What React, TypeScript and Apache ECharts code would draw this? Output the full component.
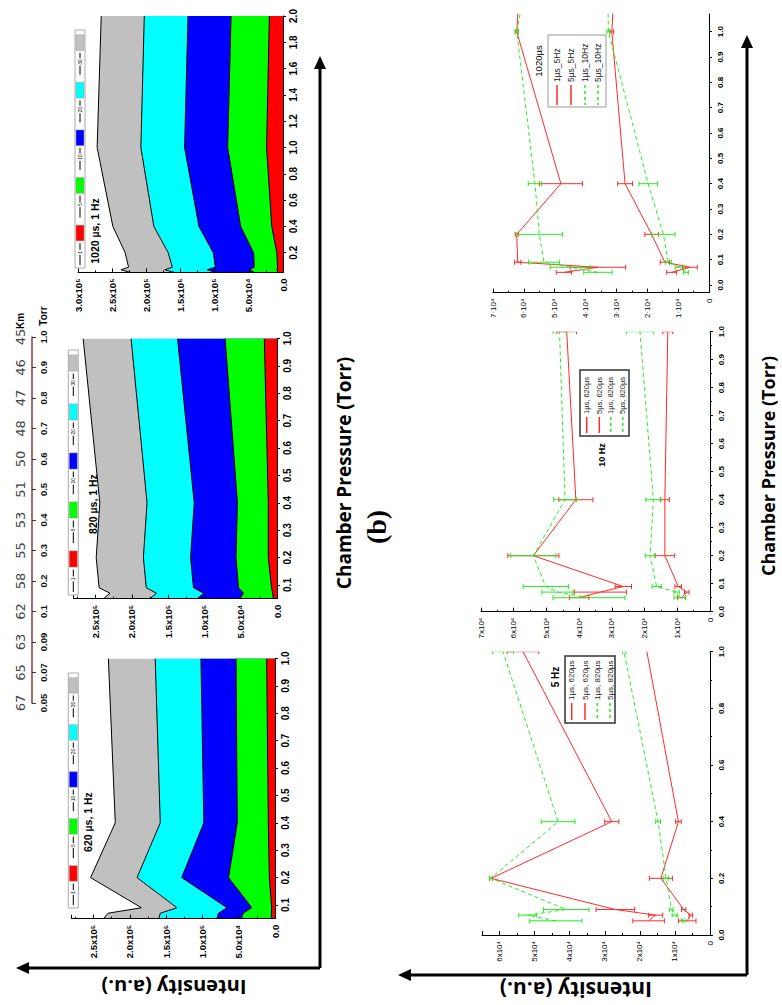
import React, { useEffect, useRef } from 'react';
import * as echarts from 'echarts';

// ---------- Area panels (1 Hz), gate widths 1,5,10,20,30 ----------
const gateLabels = ['1', '5', '10', '20', '30'];
const gateColors = ['#ff0000', '#00ff00', '#0000ff', '#00ffff', '#c0c0c0'];

const area1020Pressure = [0.05, 0.07, 0.09, 0.2, 0.4, 1.0, 2.0];
const area1020_g1 = [7000, 9000, 8000, 9000, 16500, 24000, 20000];
const area1020_g5 = [42000, 49000, 42000, 43000, 62000, 81000, 76000];
const area1020_g10 = [98000, 111000, 99000, 102000, 123000, 144000, 139000];
const area1020_g20 = [159000, 173000, 162000, 168000, 189000, 208000, 203000];
const area1020_g30 = [224000, 237000, 226000, 231000, 249000, 272000, 266000];

const area820Pressure = [0.05, 0.07, 0.09, 0.2, 0.4, 1.0];
const area820_g1 = [5000, 6000, 7500, 12000, 12000, 17500];
const area820_g5 = [51000, 46000, 53000, 56500, 54500, 71500];
const area820_g10 = [110000, 101000, 115000, 119000, 114000, 137000];
const area820_g20 = [175000, 166000, 180000, 184000, 179000, 201000];
const area820_g30 = [239000, 230000, 245000, 249000, 244000, 267000];

const area620Pressure = [0.05, 0.07, 0.09, 0.2, 0.4, 1.0];
const area620_g1 = [5000, 5000, 4600, 7800, 9200, 11500];
const area620_g5 = [46000, 44000, 32000, 64000, 52000, 53700];
const area620_g10 = [80000, 78000, 66000, 128500, 98000, 102000];
const area620_g20 = [160000, 158000, 135000, 190000, 158000, 165000];
const area620_g30 = [236000, 230000, 184000, 254000, 220000, 229500];

const areaTicks1020 = [0.2, 0.4, 0.6, 0.8, 1.0, 1.2, 1.4, 1.6, 1.8, 2.0];
const areaTicks1 = [0.1, 0.2, 0.3, 0.4, 0.5, 0.6, 0.7, 0.8, 0.9, 1.0];

// ---------- altitude / pressure scale ----------
const torrTicks = ['0.05', '0.07', '0.09', '0.1', '0.2', '0.3', '0.4', '0.5', '0.6', '0.7', '0.8', '0.9', '1.0'];
const kmTicks = ['67', '65', '63', '62', '58', '55', '53', '51', '50', '48', '47', '46', '45'];

// ---------- Line panels ----------
const linePressure = [0.05, 0.07, 0.09, 0.2, 0.4, 1.0];
const line1020Pressure = [0.05, 0.07, 0.09, 0.2, 0.4, 1.0, 2.0];
const line1020Ticks = [0, 0.1, 0.2, 0.3, 0.4, 0.5, 0.6, 0.7, 0.8, 0.9, 1.0];

// 5 Hz panel
const hz5_1us620 = [6500, 5500, 7500, 14000, 9000, 18000];
const hz5_1us620Err = [2500, 500, 600, 3300, 800, 0];
const hz5_5us620 = [17500, 15500, 27000, 62400, 28000, 53300];
const hz5_5us620Err = [4500, 2000, 5500, 400, 2000, 4500];
const hz5_1us820 = [7500, 10000, 11000, 12500, 14800, 24500];
const hz5_1us820Err = [400, 800, 500, 700, 700, 500];
const hz5_5us820 = [44000, 52000, 41000, 62500, 43300, 59000];
const hz5_5us820Err = [7500, 2500, 6500, 400, 4800, 3000];

// 10 Hz panel
const hz10_1us620 = [8700, 7100, 9700, 13800, 13800, 12900];
const hz10_1us620Err = [1200, 700, 1000, 3000, 1400, 1500];
const hz10_5us620 = [40000, 33500, 26500, 54000, 41000, 43800];
const hz10_5us620Err = [3000, 8000, 2500, 7800, 5200, 3000];
const hz10_1us820 = [9200, 10200, 16300, 18300, 17300, 21400];
const hz10_1us820Err = [1800, 800, 1400, 1500, 2300, 4200];
const hz10_5us820 = [37000, 46600, 50200, 54000, 44300, 46000];
const hz10_5us820Err = [11000, 4800, 6900, 6900, 3500, 2000];

// 1020 us panel
const us1020_1us5Hz = [12100, 6200, 14300, 18600, 27200, 31500, 27000];
const us1020_1us5HzErr = [1600, 2400, 1500, 2200, 2400, 600, 0];
const us1020_5us5Hz = [47000, 36000, 62000, 62300, 48000, 62300, 57500];
const us1020_5us5HzErr = [2500, 9000, 1000, 500, 7000, 500, 0];
const us1020_1us10Hz = [7500, 9400, 13200, 14800, 19700, 32600, 34000];
const us1020_1us10HzErr = [800, 1500, 1000, 3800, 3000, 500, 0];
const us1020_5us10Hz = [36000, 45000, 53500, 55000, 56400, 62300, 47000];
const us1020_5us10HzErr = [4600, 6500, 5000, 7500, 2200, 500, 0];

const legend620 = ['1\u00b5s, 620\u00b5s', '5\u00b5s, 620\u00b5s', '1\u00b5s, 820\u00b5s', '5\u00b5s, 820\u00b5s'];
const legend1020 = ['1\u00b5s_5Hz', '5\u00b5s_5Hz', '1\u00b5s_10Hz', '5\u00b5s_10Hz'];

const RED = '#ff2a2a';
const GREEN = '#22ee22';
const ARIAL = '"Liberation Sans", Arial, sans-serif';
const OPEN = '"Open Sans", "Noto Sans", sans-serif';

function fmtArea(v: number) {
  if (v === 0) return '0.0';
  if (v < 1e5) return (v / 1e4).toFixed(1) + 'x10\u2074';
  return (v / 1e5).toFixed(1) + 'x10\u2075';
}

function areaSeries(g: number, pressures: number[], bands: number[][]) {
  // bands ordered from 30 down to 1
  const colors = [gateColors[4], gateColors[3], gateColors[2], gateColors[1], gateColors[0]];
  return {
    type: 'custom',
    xAxisIndex: g,
    yAxisIndex: g,
    clip: true,
    silent: true,
    z: 2,
    encode: { x: 0, y: 1 },
    data: bands.map((_, k) => [0, pressures[0], k]),
    renderItem: (params: any, api: any) => {
      const k = params.dataIndex;
      const vals = bands[k];
      const top = pressures.map((p, j) => api.coord([vals[j], p]));
      const b0 = api.coord([0, pressures[pressures.length - 1]]);
      const b1 = api.coord([0, pressures[0]]);
      return {
        type: 'group',
        children: [
          { type: 'polygon', shape: { points: [...top, b0, b1] }, style: { fill: colors[k], stroke: null } },
          { type: 'polyline', shape: { points: top }, style: { stroke: '#000', lineWidth: 1, fill: null } },
        ],
      };
    },
  };
}

function lineSeries(g: number, pressures: number[], vals: number[], color: string, dashed: boolean) {
  return {
    type: 'line',
    xAxisIndex: g,
    yAxisIndex: g,
    data: pressures.map((p, j) => [vals[j], p]),
    showSymbol: false,
    symbol: 'none',
    clip: true,
    silent: true,
    z: 3,
    lineStyle: { color, width: 1, type: dashed ? [4, 3] : 'solid' },
    itemStyle: { color },
  };
}

function errSeries(g: number, pressures: number[], vals: number[], errs: number[], color: string) {
  return {
    type: 'custom',
    xAxisIndex: g,
    yAxisIndex: g,
    clip: true,
    silent: true,
    z: 4,
    encode: { x: 0, y: 1 },
    data: pressures.map((p, j) => [vals[j], p, errs[j]]),
    renderItem: (params: any, api: any) => {
      const v = api.value(0);
      const p = api.value(1);
      const e = api.value(2);
      if (!e) return { type: 'group', children: [] };
      const a = api.coord([v - e, p]);
      const b = api.coord([v + e, p]);
      const h = 2.5;
      const st = { stroke: color, lineWidth: 1 };
      return {
        type: 'group',
        children: [
          { type: 'line', shape: { x1: a[0], y1: a[1], x2: b[0], y2: b[1] }, style: st },
          { type: 'line', shape: { x1: a[0], y1: a[1] - h, x2: a[0], y2: a[1] + h }, style: st },
          { type: 'line', shape: { x1: b[0], y1: b[1] - h, x2: b[0], y2: b[1] + h }, style: st },
        ],
      };
    },
  };
}

function areaX(g: number, max: number) {
  return {
    type: 'value', gridIndex: g, inverse: true, min: 0, max, interval: 50000, position: 'bottom', z: 10,
    axisLine: { show: true, onZero: false, lineStyle: { color: '#000', width: 1 } },
    axisTick: { show: true, inside: true, length: 4, lineStyle: { color: '#000' } },
    minorTick: { show: true, splitNumber: 2, length: 2, lineStyle: { color: '#000' } },
    splitLine: { show: false },
    axisLabel: {
      rotate: 90, fontSize: 9.5, fontWeight: 'bold', fontFamily: ARIAL, color: '#000', margin: 6, formatter: fmtArea,
      showMaxLabel: max % 50000 === 0,
    },
  };
}

function areaY(g: number, max: number, ticks: number[]) {
  return {
    type: 'value', gridIndex: g, min: 0.05, max, position: 'right', z: 10,
    axisLine: { show: true, onZero: false, lineStyle: { color: '#000', width: 1 } },
    axisTick: { show: true, customValues: ticks, length: 3, lineStyle: { color: '#000' } },
    splitLine: { show: false },
    axisLabel: {
      customValues: ticks, rotate: 90, fontSize: 10, fontWeight: 'bold', fontFamily: ARIAL, color: '#000', margin: 5,
      formatter: (v: number) => v.toFixed(1),
    },
  };
}

function lineX(g: number, max: number, sep: string) {
  return {
    type: 'value', gridIndex: g, inverse: true, min: 0, max, interval: 10000, position: 'bottom', z: 10,
    axisLine: { show: true, onZero: false, lineStyle: { color: '#000', width: 1 } },
    axisTick: { show: true, inside: true, length: 4, lineStyle: { color: '#000' } },
    minorTick: { show: true, splitNumber: 2, length: 2, lineStyle: { color: '#000' } },
    splitLine: { show: false },
    axisLabel: {
      rotate: 90, fontSize: 8, fontFamily: ARIAL, color: '#000', margin: 6,
      showMaxLabel: max % 10000 === 0,
      formatter: (v: number) => (v === 0 ? '0' : Math.round(v / 1e4) + sep + '10\u2074'),
    },
  };
}

function lineY(g: number, min: number, max: number, ticks: number[] | null, interval?: number) {
  const base: any = {
    type: 'value', gridIndex: g, min, max, position: 'right', z: 10,
    axisLine: { show: true, onZero: false, lineStyle: { color: '#000', width: 1 } },
    axisTick: { show: true, length: 3, lineStyle: { color: '#000' } },
    splitLine: { show: false },
    axisLabel: {
      rotate: 90, fontSize: 8, fontWeight: 'bold', fontFamily: ARIAL, color: '#000', margin: 7,
      formatter: (v: number) => v.toFixed(1),
    },
  };
  if (ticks) {
    base.axisTick.customValues = ticks;
    base.axisLabel.customValues = ticks;
  }
  if (interval) {
    base.interval = interval;
    base.minorTick = { show: true, splitNumber: 2, length: 2, lineStyle: { color: '#000' } };
  }
  return base;
}

function txt(x: number, y: number, text: string, fontSize: number, opts: any = {}) {
  return {
    type: 'text', x, y, rotation: opts.rotation ?? Math.PI / 2, silent: true, z: 20,
    style: {
      text, fontSize, fontWeight: opts.bold ? 'bold' : 'normal', fontFamily: opts.font || ARIAL,
      fill: opts.color || '#000', align: opts.align || 'center', verticalAlign: 'middle',
      textAlign: opts.align || 'center', textVerticalAlign: 'middle',
      backgroundColor: opts.bg, padding: opts.bg ? [0, 1] : 0,
    },
  };
}

function areaLegend(x0: number, x1: number, yTop: number, yBot: number) {
  const els: any[] = [];
  els.push({ type: 'rect', z: 15, silent: true, shape: { x: x0, y: yTop, width: x1 - x0, height: yBot - yTop }, style: { fill: '#fff', stroke: '#aaa', lineWidth: 1 } });
  const H = (yBot - yTop) / 5;
  const cx = (x0 + x1) / 2;
  for (let k = 0; k < 5; k++) {
    const b = yBot - k * H;
    els.push({ type: 'line', z: 16, silent: true, shape: { x1: cx, y1: b - 0.06 * H, x2: cx, y2: b - 0.52 * H }, style: { stroke: '#000', lineWidth: 1 } });
    els.push(txt(cx, b - 0.33 * H, gateLabels[k], 5, { bg: '#fff' }));
    els.push({ type: 'rect', z: 16, silent: true, shape: { x: cx - 4, y: b - 0.9 * H, width: 8, height: 0.33 * H }, style: { fill: gateColors[k], stroke: '#999', lineWidth: 0.5 } });
  }
  return els;
}

function lineLegend(x0: number, y0: number, x1: number, y1: number, cols: number[], s0: number, s1: number, tStart: number, labels: string[], fontSize: number, border: string, bw: number) {
  const els: any[] = [];
  els.push({ type: 'rect', z: 15, silent: true, shape: { x: x0, y: y0, width: x1 - x0, height: y1 - y0 }, style: { fill: '#fff', stroke: border, lineWidth: bw } });
  cols.forEach((cx, i) => {
    const green = i >= 2;
    els.push({ type: 'line', z: 16, silent: true, shape: { x1: cx, y1: s0, x2: cx, y2: s1 }, style: { stroke: green ? GREEN : RED, lineWidth: 1.5, lineDash: green ? [3, 3] : null } });
    els.push(txt(cx, tStart, labels[i], fontSize, { align: 'left', color: '#222' }));
  });
  return els;
}

function arrow(x1: number, y1: number, x2: number, y2: number, dir: 'left' | 'up') {
  const els: any[] = [];
  els.push({ type: 'line', z: 20, silent: true, shape: { x1, y1, x2, y2 }, style: { stroke: '#000', lineWidth: 3 } });
  if (dir === 'left') {
    els.push({ type: 'polygon', z: 20, silent: true, shape: { points: [[x2 - 12, y2], [x2 + 1, y2 - 6], [x2 + 1, y2 + 6]] }, style: { fill: '#000' } });
  } else {
    els.push({ type: 'polygon', z: 20, silent: true, shape: { points: [[x2, y2 - 12], [x2 - 6, y2 + 1], [x2 + 6, y2 + 1]] }, style: { fill: '#000' } });
  }
  return els;
}

function buildOption(): any {
  const gridBase = { containLabel: false, outerBoundsMode: 'none', show: false };
  const grid = [
    { ...gridBase, left: 78, top: 16, width: 205, height: 256.4 },
    { ...gridBase, left: 73.7, top: 338.4, width: 203.3, height: 260.3 },
    { ...gridBase, left: 71.7, top: 658.4, width: 203.3, height: 260.3 },
    { ...gridBase, left: 32, top: 337, width: 1, height: 366 },
    { ...gridBase, left: 493, top: 14, width: 216, height: 278.6 },
    { ...gridBase, left: 481, top: 331.7, width: 229, height: 280 },
    { ...gridBase, left: 482, top: 651.7, width: 228, height: 283.3 },
  ];

  const xAxis = [
    areaX(0, 300000),
    areaX(1, 280000),
    areaX(2, 280000),
    { type: 'value', gridIndex: 3, show: false, min: 0, max: 1 },
    lineX(4, 70000, '\u00b7'),
    lineX(5, 70000, 'x'),
    lineX(6, 65000, 'x'),
  ];

  const kmColor = '#8b3a3a';
  const yAxis = [
    areaY(0, 2.0, areaTicks1020),
    areaY(1, 1.0, areaTicks1),
    areaY(2, 1.0, areaTicks1),
    {
      type: 'category', gridIndex: 3, data: torrTicks, boundaryGap: false, position: 'right', z: 10,
      axisLine: { show: true, lineStyle: { color: kmColor, width: 1.5 } },
      axisTick: { show: true, length: 4, alignWithLabel: true, lineStyle: { color: '#333' } },
      axisLabel: { rotate: 90, fontSize: 9.5, fontWeight: 'bold', fontFamily: ARIAL, color: '#111', margin: 5, interval: 0 },
      splitLine: { show: false },
    },
    lineY(4, -0.03, 1.07, line1020Ticks),
    lineY(5, 0, 1.0, null, 0.1),
    lineY(6, 0, 1.0, null, 0.2),
    {
      type: 'category', gridIndex: 3, data: kmTicks, boundaryGap: false, position: 'left',
      axisLine: { show: false }, axisTick: { show: false },
      axisLabel: { rotate: 90, fontSize: 13, fontFamily: '"DejaVu Sans", sans-serif', color: '#444', margin: 5, interval: 0 },
      splitLine: { show: false },
    },
  ];

  const series: any[] = [
    areaSeries(0, area1020Pressure, [area1020_g30, area1020_g20, area1020_g10, area1020_g5, area1020_g1]),
    areaSeries(1, area820Pressure, [area820_g30, area820_g20, area820_g10, area820_g5, area820_g1]),
    areaSeries(2, area620Pressure, [area620_g30, area620_g20, area620_g10, area620_g5, area620_g1]),

    lineSeries(4, line1020Pressure, us1020_1us5Hz, RED, false),
    lineSeries(4, line1020Pressure, us1020_5us5Hz, RED, false),
    lineSeries(4, line1020Pressure, us1020_1us10Hz, GREEN, true),
    lineSeries(4, line1020Pressure, us1020_5us10Hz, GREEN, true),
    errSeries(4, line1020Pressure, us1020_1us5Hz, us1020_1us5HzErr, RED),
    errSeries(4, line1020Pressure, us1020_5us5Hz, us1020_5us5HzErr, RED),
    errSeries(4, line1020Pressure, us1020_1us10Hz, us1020_1us10HzErr, GREEN),
    errSeries(4, line1020Pressure, us1020_5us10Hz, us1020_5us10HzErr, GREEN),

    lineSeries(5, linePressure, hz10_1us620, RED, false),
    lineSeries(5, linePressure, hz10_5us620, RED, false),
    lineSeries(5, linePressure, hz10_1us820, GREEN, true),
    lineSeries(5, linePressure, hz10_5us820, GREEN, true),
    errSeries(5, linePressure, hz10_1us620, hz10_1us620Err, RED),
    errSeries(5, linePressure, hz10_5us620, hz10_5us620Err, RED),
    errSeries(5, linePressure, hz10_1us820, hz10_1us820Err, GREEN),
    errSeries(5, linePressure, hz10_5us820, hz10_5us820Err, GREEN),

    lineSeries(6, linePressure, hz5_1us620, RED, false),
    lineSeries(6, linePressure, hz5_5us620, RED, false),
    lineSeries(6, linePressure, hz5_1us820, GREEN, true),
    lineSeries(6, linePressure, hz5_5us820, GREEN, true),
    errSeries(6, linePressure, hz5_1us620, hz5_1us620Err, RED),
    errSeries(6, linePressure, hz5_5us620, hz5_5us620Err, RED),
    errSeries(6, linePressure, hz5_1us820, hz5_1us820Err, GREEN),
    errSeries(6, linePressure, hz5_5us820, hz5_5us820Err, GREEN),
  ];

  const elements: any[] = [
    ...areaLegend(75, 85, 30, 268),
    ...areaLegend(68.3, 78.3, 350, 595),
    ...areaLegend(68.3, 78.3, 673, 908),
    txt(95, 231, '1020 \u00b5s, 1 Hz', 10.5, { bold: true }),
    txt(92.5, 504, '820 \u00b5s, 1 Hz', 10.5, { bold: true }),
    txt(88, 822, '620 \u00b5s, 1 Hz', 10.5, { bold: true }),
    txt(20, 321, 'Km', 10, { bold: true }),
    txt(43, 316, 'Torr', 10, { bold: true }),

    ...lineLegend(548, 35, 606, 107, [557, 571, 585, 598], 85, 105, 82, legend1020, 8.5, '#999', 1),
    ...lineLegend(580, 370, 629, 436, [586.7, 599.3, 610.7, 622.7], 417, 433, 414, legend620, 7.5, '#333', 1.5),
    ...lineLegend(565, 656, 615, 723, [571.7, 585, 597.3, 610], 703, 720, 700, legend620, 8, '#333', 1.5),
    txt(538, 61, '1020\u00b5s', 9.5),
    txt(601.7, 455, '10 Hz', 9, { bold: true }),
    txt(555, 677, '5 Hz', 10, { bold: true }),

    ...arrow(320, 968, 28, 968, 'left'),
    ...arrow(320, 968, 320, 68, 'up'),
    ...arrow(747, 975, 410, 975, 'left'),
    ...arrow(747, 975, 747, 47, 'up'),

    txt(174, 987, 'Intensity (a.u.)', 20, { bold: true, font: OPEN, rotation: Math.PI }),
    txt(576, 990, 'Intensity (a.u.)', 21, { bold: true, font: OPEN, rotation: Math.PI }),
    txt(344, 473, 'Chamber Pressure (Torr)', 19, { bold: true, font: OPEN }),
    txt(768, 466, 'Chamber Pressure (Torr)', 18, { bold: true, font: OPEN }),
    txt(376, 527, '(b)', 28, { bold: true, font: '"Liberation Serif", serif' }),
  ];

  return {
    animation: false,
    backgroundColor: '#fff',
    grid,
    xAxis,
    yAxis,
    series,
    graphic: { elements },
  };
}

export default function App() {
  const ref = useRef<HTMLDivElement>(null);
  useEffect(() => {
    const chart = echarts.init(ref.current as HTMLDivElement, null, { renderer: 'svg' });
    chart.setOption(buildOption());
    return () => chart.dispose();
  }, []);
  return (
    <div
      ref={ref}
      style={{ position: 'absolute', left: 0, top: 0, width: 782, height: 1005, background: '#fff' }}
    />
  );
}
